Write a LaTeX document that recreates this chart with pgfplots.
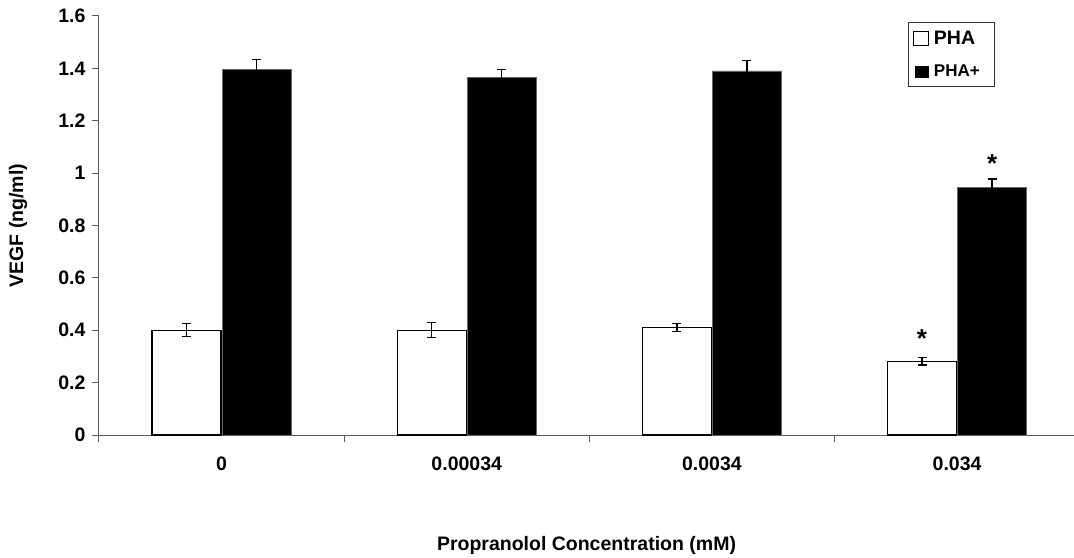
\documentclass[border=0pt]{standalone}
\usepackage{fontspec}
\setmainfont{Liberation Sans}
\usepackage{pgfplots}
\pgfplotsset{compat=1.18}
\begin{document}
\begin{tikzpicture}
\begin{axis}[
  scale only axis,
  width=975bp, height=419bp,
  xmin=-0.5, xmax=3.477,
  ymin=0, ymax=1.6,
  axis x line*=bottom, axis y line*=left,
  axis line style={draw=black!65, line width=1bp},
  tick align=outside,
  major tick length=7bp,
  tick style={draw=black!65, line width=1bp},
  ytick={0,0.2,0.4,0.6,0.8,1,1.2,1.4,1.6},
  xtick={-0.5,0.5,1.5,2.5},
  xticklabels={},
  extra x ticks={0,1,2,3},
  extra x tick labels={0,0.00034,0.0034,0.034},
  extra x tick style={major tick length=0pt, xticklabel style={yshift=-18bp}},
  /pgf/number format/assume math mode=true,
  tick label style={font=\bfseries\fontsize{19.5bp}{20bp}\selectfont},
  yticklabel style={xshift=-3bp},
  xlabel={Propranolol Concentration (mM)},
  ylabel={VEGF (ng/ml)},
  label style={font=\bfseries\fontsize{19.5bp}{20bp}\selectfont},
  xlabel style={at={(axis description cs:0.5,-0.2625)}, anchor=center},
  ylabel style={at={(axis description cs:-0.083,0.5)}, anchor=center},
  ybar=1bp, bar width=69bp,
  legend style={at={(0.830,0.986)}, anchor=north west, draw=black!80, line width=1bp,
    inner xsep=4bp, inner ysep=6.5bp, row sep=15bp, column sep=3bp,
    font=\bfseries\fontsize{19.5bp}{20bp}\selectfont,
    cells={anchor=west}},
  legend cell align=left,
  error bars/error bar style={line width=1.3bp, black},
  error bars/error mark options={rotate=90, mark size=4.5bp, line width=1.3bp, black},
]
\addplot[draw=black, line width=1.3bp, fill=white,
  legend image code/.code={\draw[black, line width=1.2bp, fill=white] (0bp,-7bp) rectangle (15bp,7bp);},
  error bars/.cd, y dir=both, y explicit]
  coordinates {(0,0.400) +- (0,0.025) (1,0.400) +- (0,0.029) (2,0.410) +- (0,0.016) (3,0.282) +- (0,0.015)};
\addlegendentry{\makebox[55bp][l]{PHA}}
\addplot[draw=black!60, line width=0.6bp, fill=black,
  legend image code/.code={\fill[black] (1.5bp,-5.5bp) rectangle (14.5bp,5.5bp);},
  error bars/.cd, y dir=both, y explicit]
  coordinates {(0,1.397) +- (0,0.038) (1,1.365) +- (0,0.030) (2,1.390) +- (0,0.040) (3,0.947) +- (0,0.031)};
\addlegendentry{\makebox[55bp][l]{\fontsize{17bp}{18bp}\selectfont PHA+}}
\node[font=\bfseries\fontsize{26bp}{26bp}\selectfont, anchor=base] at (axis cs:2.857,0.333) {*};
\node[font=\bfseries\fontsize{26bp}{26bp}\selectfont, anchor=base] at (axis cs:3.143,1.004) {*};
\end{axis}
\pgfresetboundingbox
\path[use as bounding box] (-99bp,-123bp) rectangle (975bp,435bp);
\end{tikzpicture}
\end{document}
